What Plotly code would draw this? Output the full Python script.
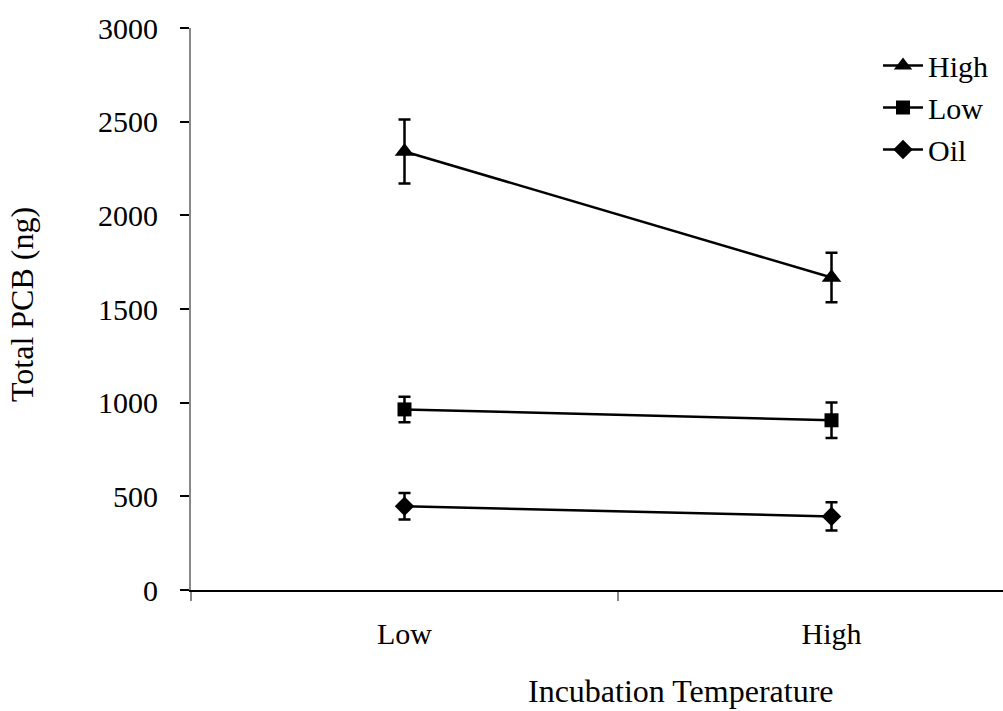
import plotly.graph_objects as go

temps = ["Low", "High"]
series_names = ["High", "Low", "Oil"]
high_vals = [2341, 1668]
high_err = [171, 132]
low_vals = [964, 906]
low_err = [68, 95]
oil_vals = [447, 393]
oil_err = [71, 76]
y_ticks = [0, 500, 1000, 1500, 2000, 2500, 3000]

FONT = "Liberation Serif"
FS = 30
FT = 32
symbols = ["triangle-up", "square", "diamond"]
sizes = [17, 14, 15]
vals = [high_vals, low_vals, oil_vals]
errs = [high_err, low_err, oil_err]

X0, X1, Y0, Y1 = 191, 1003, 27.5, 590.5
PW, PH = X1 - X0, Y1 - Y0

fig = go.Figure()
for name, v, e, s, sz in zip(series_names, vals, errs, symbols, sizes):
    fig.add_trace(go.Scatter(
        x=temps, y=v, name=name, mode="lines+markers",
        legendgroup=name,
        line=dict(color="black", width=2.5),
        marker=dict(symbol=s, size=sz, color="black"),
        error_y=dict(type="data", array=e, visible=True, color="black",
                     thickness=2.5, width=6),
    ))

fig.update_layout(
    width=1003, height=711,
    margin=dict(l=X0, r=1003 - X1, t=Y0, b=711 - Y1),
    paper_bgcolor="white", plot_bgcolor="white",
    font=dict(family=FONT, size=FS, color="black"),
    showlegend=True,
    legend=dict(x=(878 - X0) / PW, y=1 - (39 - Y0) / PH, xanchor="left", yanchor="top",
                font=dict(family=FONT, size=30), tracegroupgap=0,
                bgcolor="rgba(0,0,0,0)", itemwidth=40),
    xaxis=dict(type="category", range=[-0.5, 1.4016], tickson="boundaries",
               ticks="outside", ticklen=9, tickcolor="#888888", tickwidth=2,
               showline=True, linecolor="black", linewidth=2,
               showgrid=False, zeroline=False, ticklabelstandoff=16,
               tickfont=dict(family=FONT, size=FS)),
    yaxis=dict(range=[0, 3000], tickvals=y_ticks, ticks="outside", ticklen=9,
               tickcolor="black", tickwidth=1.5,
               showline=True, linecolor="#888888", linewidth=2,
               showgrid=False, zeroline=False, ticklabelstandoff=16,
               tickfont=dict(family=FONT, size=FS)),
    annotations=[
        dict(text="Incubation Temperature", xref="paper", yref="paper",
             x=(680 - X0) / PW, y=-(692 - Y1) / PH,
             xanchor="center", yanchor="middle", showarrow=False,
             font=dict(family=FONT, size=FT)),
        dict(text="Total PCB (ng)", xref="paper", yref="paper",
             x=(22 - X0) / PW, y=1 - (305 - Y0) / PH, textangle=-90,
             xanchor="center", yanchor="middle", showarrow=False,
             font=dict(family=FONT, size=FT)),
    ],
)

fig.write_html("out.html")
